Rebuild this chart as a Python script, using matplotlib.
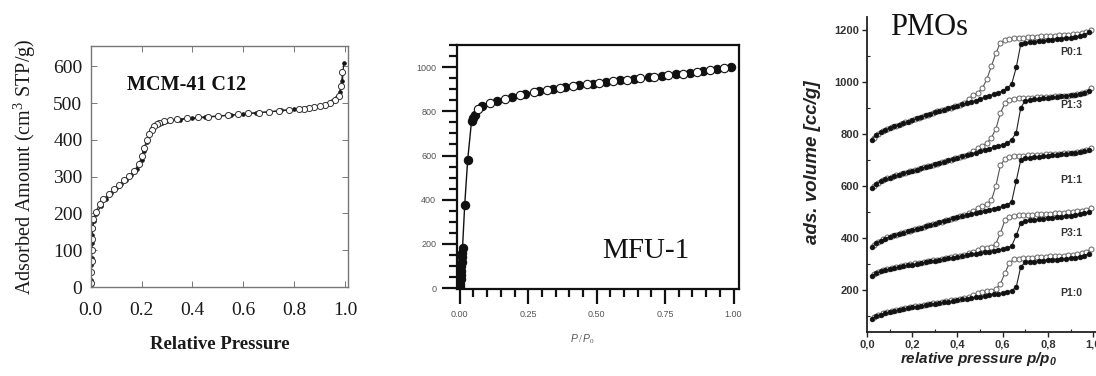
"""Three N2 isotherm panels: MCM-41 C12, MFU-1, PMOs."""
import matplotlib
matplotlib.use('Agg')
import matplotlib.pyplot as plt
from matplotlib.ticker import MultipleLocator

plt.rcParams['mathtext.fontset'] = 'custom'
plt.rcParams['mathtext.rm'] = 'Liberation Serif'
plt.rcParams['mathtext.it'] = 'Liberation Sans:italic'
plt.rcParams['mathtext.bf'] = 'Liberation Sans:bold:italic'

# ---- MCM-41 C12 (panel 1) ----
mcm_ads_x = [0.0005, 0.001, 0.0015, 0.002, 0.003, 0.004, 0.005, 0.006, 0.008, 0.012, 0.02, 0.04, 0.06, 0.08,
             0.10, 0.12, 0.14, 0.16, 0.18, 0.20, 0.21, 0.22, 0.23, 0.24, 0.26, 0.28, 0.30, 0.35, 0.40, 0.45,
             0.50, 0.55, 0.60, 0.65, 0.70, 0.75, 0.80, 0.85, 0.90, 0.93, 0.95, 0.97, 0.98, 0.99, 0.995]
mcm_ads_y = [5, 20, 40, 60, 80, 100, 120, 140, 160, 180, 198, 220, 240, 255,
             268, 280, 292, 305, 320, 345, 370, 395, 418, 432, 443, 447, 451, 455, 458, 461,
             464, 467, 470, 473, 476, 480, 483, 487, 492, 498, 505, 515, 530, 560, 610]
mcm_des_x = [0.99, 0.985, 0.975, 0.96, 0.94, 0.92, 0.90, 0.88, 0.86, 0.84, 0.82, 0.78, 0.74, 0.70, 0.66,
             0.62, 0.58, 0.54, 0.50, 0.46, 0.42, 0.38, 0.34, 0.31, 0.29, 0.27, 0.26, 0.25, 0.24, 0.23,
             0.22, 0.21, 0.20, 0.19, 0.17, 0.15, 0.13, 0.11, 0.09, 0.07, 0.05, 0.035, 0.02, 0.01, 0.006,
             0.005, 0.004, 0.003, 0.002, 0.001]
mcm_des_y = [585, 545, 520, 508, 500, 495, 492, 489, 486, 484, 483, 481, 478, 476, 474,
             472, 469, 467, 465, 463, 461, 459, 456, 453, 450, 446, 442, 437, 428, 415,
             400, 378, 355, 335, 315, 302, 290, 278, 265, 252, 238, 225, 205, 185, 160,
             130, 100, 70, 40, 10]
mcm_xticks = [0.0, 0.2, 0.4, 0.6, 0.8, 1.0]
mcm_yticks = [0, 100, 200, 300, 400, 500, 600]

# ---- MFU-1 (panel 2) ----
mfu_ads_x = [0.001, 0.002, 0.003, 0.004, 0.005, 0.006, 0.007, 0.008, 0.009, 0.010, 0.018, 0.029, 0.043,
             0.049, 0.055, 0.08, 0.135, 0.19, 0.24, 0.29, 0.34, 0.385, 0.435, 0.485, 0.535, 0.585,
             0.635, 0.69, 0.74, 0.79, 0.84, 0.89, 0.94, 0.99]
mfu_ads_y = [5, 20, 40, 60, 80, 100, 120, 140, 160, 180, 376, 582, 756,
             770, 782, 822, 848, 865, 878, 890, 901, 910, 918, 925, 933, 940,
             947, 954, 961, 968, 975, 982, 991, 1000]
mfu_des_x = [0.065, 0.11, 0.165, 0.22, 0.27, 0.32, 0.365, 0.415, 0.465, 0.51, 0.56, 0.61, 0.66,
             0.71, 0.76, 0.815, 0.865, 0.915, 0.965]
mfu_des_y = [810, 838, 858, 874, 886, 897, 906, 915, 922, 929, 936, 943, 950,
             957, 964, 971, 978, 986, 995]
mfu_xticks = [0.00, 0.25, 0.50, 0.75, 1.00]
mfu_xlabels = ['0.00', '0.25', '0.50', '0.75', '1.00']
mfu_yticks = [0, 200, 400, 600, 800, 1000]

# ---- PMOs (panel 3) ----
pmo_ads_x = [0.02, 0.04, 0.06, 0.08, 0.10, 0.12, 0.14, 0.16, 0.18, 0.20,
             0.22, 0.24, 0.26, 0.28, 0.30, 0.32, 0.34, 0.36, 0.38, 0.40,
             0.42, 0.44, 0.46, 0.48, 0.50, 0.52, 0.54, 0.56, 0.58, 0.60,
             0.62, 0.64, 0.66, 0.68, 0.70, 0.72, 0.74, 0.76, 0.78, 0.80,
             0.82, 0.84, 0.86, 0.88, 0.90, 0.92, 0.94, 0.96, 0.98]
pmo_des_x = [0.03, 0.05, 0.07, 0.09, 0.11, 0.13, 0.15, 0.17, 0.19, 0.21,
             0.23, 0.25, 0.27, 0.29, 0.31, 0.33, 0.35, 0.37, 0.39, 0.41,
             0.43, 0.45, 0.47, 0.49, 0.51, 0.53, 0.55, 0.57, 0.59, 0.61,
             0.63, 0.65, 0.67, 0.69, 0.71, 0.73, 0.75, 0.77, 0.79, 0.81,
             0.83, 0.85, 0.87, 0.89, 0.91, 0.93, 0.95, 0.97, 0.99]
pmo_names = ['P1:0', 'P3:1', 'P1:1', 'P1:3', 'P0:1']
pmo_label_y = [188, 419, 622, 910, 1114]
p10_ads = [90, 100, 106, 111, 116, 120, 124, 127, 130, 133,
           136, 139, 142, 145, 148, 150, 153, 156, 158, 161,
           164, 166, 169, 172, 175, 177, 180, 183, 186, 189,
           193, 198, 212, 290, 306, 308, 309, 311, 312, 314,
           315, 317, 318, 320, 322, 324, 327, 332, 340]
p10_des = [97, 105, 111, 116, 121, 125, 128, 131, 134, 137,
           140, 143, 146, 149, 152, 155, 158, 160, 163, 166,
           170, 175, 182, 188, 192, 195, 198, 203, 225, 265,
           305, 318, 321, 323, 324, 325, 326, 327, 328, 329,
           330, 331, 332, 333, 335, 337, 341, 347, 358]
p31_ads = [254, 265, 272, 277, 281, 285, 288, 292, 295, 298,
           301, 304, 307, 310, 313, 316, 319, 322, 325, 328,
           331, 334, 337, 340, 343, 346, 348, 351, 354, 357,
           361, 370, 410, 458, 466, 468, 470, 472, 474, 476,
           478, 480, 482, 484, 486, 488, 491, 495, 500]
p31_des = [262, 270, 276, 281, 285, 289, 292, 296, 299, 302,
           305, 308, 311, 314, 317, 320, 323, 326, 329, 332,
           336, 341, 348, 355, 360, 363, 367, 378, 420, 468,
           480, 485, 487, 488, 489, 490, 491, 492, 493, 494,
           495, 496, 497, 498, 500, 502, 505, 508, 515]
p11_ads = [365, 380, 390, 398, 405, 410, 415, 420, 425, 430,
           435, 440, 445, 450, 455, 460, 465, 470, 475, 480,
           485, 489, 493, 497, 501, 505, 509, 513, 517, 521,
           527, 540, 620, 700, 706, 708, 710, 712, 714, 716,
           718, 720, 722, 724, 726, 728, 730, 733, 738]
p11_des = [372, 385, 395, 402, 408, 413, 418, 423, 428, 433,
           438, 443, 448, 453, 458, 463, 468, 473, 478, 483,
           488, 495, 505, 515, 522, 530, 545, 600, 680, 703,
           710, 713, 715, 716, 717, 718, 719, 720, 721, 722,
           723, 724, 725, 726, 728, 730, 733, 737, 745]
p13_ads = [592, 607, 617, 625, 632, 638, 643, 648, 653, 658,
           663, 668, 673, 678, 683, 688, 693, 698, 703, 708,
           713, 718, 723, 728, 733, 738, 743, 748, 753, 758,
           765, 778, 805, 900, 928, 930, 932, 934, 936, 938,
           940, 942, 944, 946, 948, 951, 954, 958, 965]
p13_des = [598, 612, 621, 629, 635, 641, 646, 651, 656, 661,
           666, 671, 676, 681, 686, 691, 696, 701, 706, 711,
           716, 722, 735, 745, 752, 765, 785, 820, 880, 918,
           930, 934, 936, 937, 938, 939, 940, 941, 942, 943,
           944, 945, 946, 947, 949, 952, 956, 962, 975]
p01_ads = [778, 795, 806, 815, 822, 829, 835, 841, 847, 853,
           859, 865, 871, 877, 883, 888, 893, 898, 903, 908,
           913, 918, 923, 928, 934, 940, 946, 952, 958, 965,
           975, 992, 1055, 1145, 1150, 1152, 1154, 1156, 1158, 1160,
           1162, 1164, 1166, 1168, 1170, 1173, 1176, 1180, 1190]
p01_des = [785, 800, 811, 819, 826, 832, 838, 844, 850, 856,
           862, 868, 874, 880, 886, 891, 896, 901, 906, 911,
           918, 935, 948, 958, 975, 1010, 1060, 1110, 1150, 1160,
           1165, 1167, 1169, 1170, 1171, 1172, 1173, 1174, 1175, 1176,
           1177, 1178, 1179, 1180, 1182, 1185, 1188, 1192, 1200]
pmo_ads = [p10_ads, p31_ads, p11_ads, p13_ads, p01_ads]
pmo_des = [p10_des, p31_des, p11_des, p13_des, p01_des]
pmo_xticks = [0.0, 0.2, 0.4, 0.6, 0.8, 1.0]
pmo_xlabels = ['0,0', '0,2', '0,4', '0,6', '0,8', '1,0']
pmo_yticks = [200, 400, 600, 800, 1000, 1200]

fig = plt.figure(figsize=(10.96, 3.76), dpi=100)

# ---------- panel 1 ----------
serif = 'Liberation Serif'
ax1 = fig.add_axes([0.0828, 0.2367, 0.2350, 0.6410])
ax1.plot(mcm_ads_x, mcm_ads_y, '-', color='#222222', lw=0.9, marker='o', ms=2.6,
         mfc='#111111', mec='#111111', mew=0.6)
ax1.plot(mcm_des_x, mcm_des_y, '-', color='#222222', lw=0.8, marker='o', ms=4.4,
         mfc='white', mec='#333333', mew=0.7)
ax1.set_xlim(0, 1.013)
ax1.set_ylim(0, 655)
ax1.set_xticks(mcm_xticks)
ax1.set_xticklabels([f'{t:.1f}' for t in mcm_xticks])
ax1.set_yticks(mcm_yticks)
for s in ax1.spines.values():
    s.set_color('#777777')
    s.set_linewidth(1.0)
ax1.tick_params(direction='in', length=4, width=0.7, color='#777777',
                top=True, right=True, labelsize=14, labelcolor='#1a1a1a')
ax1.tick_params(axis='x', pad=11)
ax1.tick_params(axis='y', pad=6)
for lab in ax1.get_xticklabels() + ax1.get_yticklabels():
    lab.set_family(serif)
ax1.set_xlabel('Relative Pressure', family=serif, fontsize=13.5, weight='bold', color='#1a1a1a')
ax1.set_ylabel(r'Adsorbed Amount (cm$^{\mathrm{3}}$ STP/g)', family=serif, fontsize=14.5,
               color='#1a1a1a')
ax1.xaxis.set_label_coords(0.5, -0.205)
ax1.yaxis.set_label_coords(-0.205, 0.5)
ax1.text(0.143, 535, 'MCM-41 C12', family=serif, fontsize=14.5, weight='bold',
         color='#111111', ha='left', va='baseline')

# ---------- panel 2 ----------
ax2 = fig.add_axes([0.4170, 0.2306, 0.2573, 0.6497])
ax2.plot(mfu_ads_x, mfu_ads_y, '-', color='#111111', lw=1.0, marker='o', ms=6,
         mfc='#111111', mec='#111111', mew=0.8, zorder=2)
ax2.plot(mfu_des_x, mfu_des_y, '-', color='#111111', lw=1.0, marker='o', ms=6,
         mfc='white', mec='#111111', mew=0.8, zorder=3)
ax2.set_xlim(-0.01, 1.02)
ax2.set_ylim(-5, 1100)
ax2.set_xticks(mfu_xticks)
ax2.set_xticklabels(mfu_xlabels)
ax2.set_yticks(mfu_yticks)
ax2.xaxis.set_minor_locator(MultipleLocator(0.05))
ax2.yaxis.set_minor_locator(MultipleLocator(50))
for s in ax2.spines.values():
    s.set_color('#111111')
    s.set_linewidth(1.6)
ax2.tick_params(which='major', direction='out', length=11, width=1.6, color='#111111',
                labelsize=6.5, labelcolor='#555555', pad=4)
ax2.tick_params(which='minor', direction='out', length=6, width=1.6, color='#111111')
for lab in ax2.get_xticklabels() + ax2.get_yticklabels():
    lab.set_family('Liberation Sans')
ax2.set_xlabel(r'$P\,/\,P_0$', fontsize=7.5, color='#555555')
ax2.xaxis.set_label_coords(0.443, -0.175)
ax2.text(0.52, 137, 'MFU-1', family=serif, fontsize=21, color='#111111',
         ha='left', va='baseline')

# ---------- panel 3 ----------
ax3 = fig.add_axes([0.7911, 0.1178, 0.2104, 0.8378])
for name, ly, ya, yd in zip(pmo_names, pmo_label_y, pmo_ads, pmo_des):
    ax3.plot(pmo_des_x, yd, '-', color='#555555', lw=0.8, marker='o', ms=3.6,
             mfc='white', mec='#666666', mew=0.7, zorder=2)
    ax3.plot(pmo_ads_x, ya, '-', color='#222222', lw=0.8, marker='o', ms=3.4,
             mfc='#111111', mec='#111111', mew=0.5, zorder=3)
    ax3.text(0.905, ly, name, family='Liberation Sans', fontsize=7.5, weight='bold',
             color='#333333', ha='center', va='center')
ax3.set_xlim(0, 1.02)
ax3.set_ylim(40, 1250)
ax3.set_xticks(pmo_xticks)
ax3.set_xticklabels(pmo_xlabels)
ax3.set_yticks(pmo_yticks)
ax3.xaxis.set_minor_locator(MultipleLocator(0.1))
ax3.yaxis.set_minor_locator(MultipleLocator(100))
ax3.spines['top'].set_visible(False)
ax3.spines['right'].set_visible(False)
for s in ('left', 'bottom'):
    ax3.spines[s].set_color('#222222')
    ax3.spines[s].set_linewidth(1.3)
ax3.tick_params(which='major', direction='out', length=3.5, width=1.0, color='#222222',
                labelsize=8, labelcolor='#333333', pad=2)
ax3.tick_params(which='minor', direction='in', length=2.5, width=0.8, color='#222222')
for lab in ax3.get_xticklabels() + ax3.get_yticklabels():
    lab.set_family('Liberation Sans')
    lab.set_weight('bold')
ax3.set_xlabel(r'relative pressure $\mathbf{p/p_0}$', family='Liberation Sans', fontsize=11,
               style='italic', weight='bold', color='#222222')
ax3.set_ylabel('ads. volume [cc/g]', family='Liberation Sans', fontsize=13.5,
               style='italic', weight='bold', color='#222222')
ax3.xaxis.set_label_coords(0.483, -0.058)
ax3.yaxis.set_label_coords(-0.2, 0.539)
ax3.text(0.10, 1178, 'PMOs', family=serif, fontsize=22, color='#111111',
         ha='left', va='baseline')

fig.savefig('out.png', dpi=100)
